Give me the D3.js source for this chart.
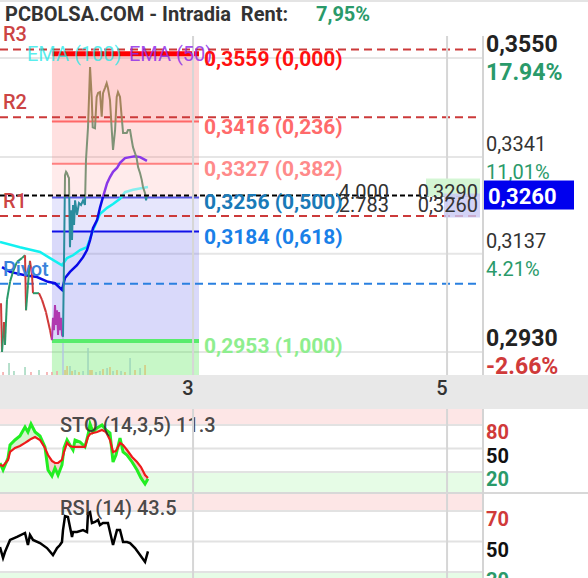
<!DOCTYPE html>
<html><head><meta charset="utf-8">
<script src="https://cdn.jsdelivr.net/npm/d3@7"></script>
<style>body{margin:0;background:#fff}svg{display:block;font-family:Roboto,"Noto Sans",sans-serif}</style>
</head><body><svg id="c" width="588" height="578"></svg>
<script>
// ---------------- data ----------------
const TITLE = "PCBOLSA.COM - Intradia\u00a0 Rent:";
const RENT = "7,95%";
const X_TICKS = [3, 5];
const X_TICK_LABELS = ["3", "5"];
const PRICE_TICKS = [0.3550, 0.3341, 0.3137, 0.2930];
const PRICE_TICK_LABELS = ["0,3550", "0,3341", "0,3137", "0,2930"];
const PRICE_TICK_BOLD = [true, false, false, true];
const PCT_LABELS = ["17.94%", "11,01%", "4.21%", "-2.66%"];
const PCT_UP = [true, true, true, false];

const FIB_LEVELS = [0.3559, 0.3416, 0.3327, 0.3256, 0.3184, 0.2953];
const FIB_RATIOS = ["0,000", "0,236", "0,382", "0,500", "0,618", "1,000"];
const FIB_SPAN = [1.889, 3.047];

const PIVOT_NAMES = ["R3", "R2", "R1", "Pivot"];
const PIVOT_LEVELS = [0.3568, 0.3425, 0.3217, 0.3074];

const LAST_PRICE = 0.3260;
const BOOK_QTY = ["4.000", "2.783"];
const BOOK_PX = ["0,3290", "0,3260"];

// price before the fibonacci range (candle colours by direction)
const PRE_T = [1.488,1.496,1.511,1.519,1.535,1.559,1.582,1.614,1.653,1.677,1.685,1.700,1.716,1.732,1.740,1.787,1.811,1.842,1.874,1.889];
const PRE_P = [0.3033,0.2930,0.2993,0.2945,0.3040,0.3078,0.3099,0.3120,0.3128,0.3134,0.3018,0.3071,0.3122,0.3092,0.3054,0.3054,0.3040,0.3014,0.2976,0.2955];
// low zone (magenta)
const DIP_T = [1.889,1.897,1.905,1.913,1.921,1.929,1.937,1.945,1.952,1.960,1.968,1.976];
const DIP_P = [0.2955,0.3002,0.2976,0.3029,0.2987,0.3018,0.2966,0.3014,0.2976,0.3002,0.2966,0.2962];
// main price path
const MAIN_T = [1.976,1.984,1.992,2.000,2.008,2.015,2.023,2.031,2.039,2.047,2.055,2.063,2.071,2.086,2.102,2.118,2.134,2.149,2.157,2.173,2.189,2.202,2.210,2.228,2.241,2.252,2.267,2.281,2.291,2.307,2.320,2.330,2.346,2.360,2.370,2.386,2.399,2.409,2.425,2.438,2.449,2.478,2.488,2.504,2.517,2.527,2.556,2.567,2.583,2.596,2.606,2.622,2.630,2.637];
const MAIN_P = [0.2962,0.3124,0.3303,0.3310,0.3307,0.3301,0.3297,0.3151,0.3229,0.3166,0.3240,0.3198,0.3250,0.3219,0.3244,0.3240,0.3250,0.3240,0.3335,0.3404,0.3531,0.3468,0.3404,0.3402,0.3468,0.3476,0.3478,0.3426,0.3476,0.3487,0.3497,0.3487,0.3461,0.3398,0.3356,0.3398,0.3468,0.3478,0.3468,0.3426,0.3392,0.3392,0.3398,0.3398,0.3377,0.3362,0.3339,0.3320,0.3307,0.3293,0.3278,0.3265,0.3250,0.3260];

const EMA100_T = [1.480,1.637,1.795,1.874,1.968,2.008,2.055,2.110,2.165,2.212,2.267,2.323,2.370,2.425,2.464,2.527,2.645];
const EMA100_V = [0.3162,0.3151,0.3141,0.3128,0.3113,0.3128,0.3134,0.3145,0.3151,0.3187,0.3221,0.3234,0.3242,0.3253,0.3267,0.3272,0.3278];
const EMA50_T = [1.496,1.559,1.677,1.771,1.858,1.913,1.968,1.992,2.031,2.086,2.134,2.165,2.189,2.212,2.244,2.267,2.291,2.323,2.346,2.370,2.401,2.425,2.464,2.504,2.543,2.583,2.637];
const EMA50_V = [0.3109,0.3099,0.3092,0.3088,0.3078,0.3075,0.3061,0.3086,0.3099,0.3113,0.3130,0.3145,0.3166,0.3191,0.3208,0.3234,0.3257,0.3286,0.3299,0.3310,0.3318,0.3329,0.3339,0.3341,0.3343,0.3341,0.3333];

const VOL_T = [1.504,1.551,1.590,1.677,1.724,1.787,1.850,1.889,1.929,1.976,1.992,2.008,2.031,2.047,2.071,2.102,2.134,2.173,2.189,2.204,2.236,2.267,2.291,2.323,2.346,2.370,2.401,2.433,2.464,2.504,2.543,2.583,2.622];
const VOL_V = [3,12,4,8,3,5,3,3,4,40,5,9,9,4,5,3,4,27,5,5,3,4,6,7,8,4,5,4,3,17,5,7,10];
const VOL_KIND = ["d","u","u","u","d","u","d","d","d","n","o","o","u","o","u","o","u","u","o","o","u","u","o","u","o","u","o","u","o","u","o","u","o"];

const STO_T = [1.480,1.504,1.543,1.559,1.598,1.637,1.677,1.700,1.724,1.756,1.795,1.834,1.858,1.889,1.913,1.937,1.968,1.984,2.008,2.031,2.055,2.071,2.110,2.149,2.173,2.189,2.212,2.244,2.283,2.315,2.346,2.370,2.393,2.425,2.449,2.480,2.520,2.559,2.590,2.622,2.645];
const STO_K = [31.5,22.6,37.9,54.5,60.9,66.0,77.5,71.1,81.3,71.1,66.0,52.0,22.6,14.9,25.1,16.2,29.0,50.7,60.9,54.5,48.1,60.9,58.3,52.0,67.3,81.3,71.1,76.2,80.0,73.6,69.8,32.8,41.7,63.4,45.6,41.7,32.8,22.6,12.4,4.7,11.3];
const STO_D = [29.0,27.7,35.4,45.6,50.7,53.2,57.1,59.6,62.2,64.7,60.9,50.7,41.7,34.1,31.5,31.5,35.4,45.6,57.1,53.2,52.0,52.0,52.0,52.0,64.7,68.5,69.8,71.1,73.6,71.1,60.9,45.6,46.9,57.1,54.5,48.1,39.2,32.8,26.4,16.2,12.4];
const STO_LEVELS = [80, 50, 20];
const STO_LABEL = "STO (14,3,5) 11.3";

const RSI_T = [1.480,1.504,1.519,1.559,1.614,1.677,1.700,1.716,1.740,1.795,1.850,1.897,1.929,1.952,1.968,1.976,1.992,2.015,2.031,2.047,2.055,2.086,2.134,2.165,2.173,2.189,2.204,2.228,2.252,2.267,2.291,2.330,2.370,2.401,2.425,2.449,2.480,2.504,2.543,2.583,2.622,2.645];
const RSI_V = [46.4,39.2,43.1,51.0,53.0,55.6,47.7,54.3,51.0,49.0,45.7,41.1,45.7,47.7,49.7,57.5,66.7,66.1,59.5,53.0,56.2,56.2,57.5,56.2,68.7,69.3,62.1,62.8,64.1,60.8,62.1,62.1,47.7,57.5,57.5,49.7,49.7,49.0,45.7,41.1,36.6,43.5];
const RSI_LEVELS = [70, 50, 30];
const RSI_LABEL = "RSI (14) 43.5";

// ---------------- layout ----------------
const W = 588, H = 578;
const AX = 483;               // right axis x
const MAIN_TOP = 36, MAIN_BOT = 375;
const XAX_BOT = 409;
const STO_TOP = 409, STO_BOT = 493;
const RSI_TOP = 493, RSI_BOT = 578;

const svg = d3.select("#c");
const x = d3.scaleLinear().domain([1.48, 5.283]).range([0, AX]);
const y = d3.scaleLinear().domain([0.2930, 0.3550]).range([352, 58]);
const yv = d3.scaleLinear().domain([0, 40]).range([MAIN_BOT, 335]);
const ys = d3.scaleLinear().domain([20, 80]).range([472, 425]);
const yr = d3.scaleLinear().domain([30, 70]).range([572, 511]);

const GREEN = "#2a9a6a", RED = "#d03a3a";

// top line + title
svg.append("rect").attr("x",0).attr("y",0).attr("width",W).attr("height",2).attr("fill","#e4e4e4");
svg.append("text").attr("x",5).attr("y",21).attr("font-size",20).attr("font-weight",700).attr("fill","#333").text(TITLE);
svg.append("text").attr("x",316).attr("y",21).attr("font-size",20).attr("font-weight",700).attr("fill",GREEN).text(RENT);

const defs = svg.append("defs");
defs.append("clipPath").attr("id","mainClip").append("rect").attr("x",0).attr("y",MAIN_TOP).attr("width",AX).attr("height",MAIN_BOT-MAIN_TOP);
defs.append("clipPath").attr("id","rsiClip").append("rect").attr("x",0).attr("y",RSI_TOP).attr("width",AX).attr("height",RSI_BOT-RSI_TOP);

function levelGradient(id, levels, colors) {
  const g = defs.append("linearGradient").attr("id", id).attr("gradientUnits","userSpaceOnUse")
    .attr("x1",0).attr("x2",0).attr("y1",0).attr("y2",H);
  g.append("stop").attr("offset",0).attr("stop-color",colors[0]);
  levels.forEach((lv,i)=>{
    const o = y(lv)/H;
    g.append("stop").attr("offset",o).attr("stop-color",colors[i]);
    g.append("stop").attr("offset",o).attr("stop-color",colors[i+1]);
  });
  g.append("stop").attr("offset",1).attr("stop-color",colors[colors.length-1]);
}
levelGradient("gPrice", [FIB_LEVELS[1], FIB_LEVELS[3]], ["#a3845c","#7f9377","#2a8c9e"]);
levelGradient("gEma100", [FIB_LEVELS[3]], ["#86eeee","#12f0f0"]);
levelGradient("gEma50", [FIB_LEVELS[3]], ["#8a38e8","#0a0ae8"]);

const main = svg.append("g").attr("clip-path","url(#mainClip)");

// gridlines
main.selectAll(".hg").data(PRICE_TICKS).join("line")
  .attr("x1",0).attr("x2",AX).attr("y1",d=>y(d)).attr("y2",d=>y(d))
  .attr("stroke","#e6e6e6").attr("stroke-width",2);
svg.selectAll(".vg").data(X_TICKS).join("line")
  .attr("x1",d=>x(d)).attr("x2",d=>x(d)).attr("y1",MAIN_TOP).attr("y2",MAIN_BOT)
  .attr("stroke","#d6d6d6").attr("stroke-width",2);

// fibonacci zones
const zoneFill = ["#ff6666","#ff6666","#ff6666","#4040e8","#4040e8","#30e030"];
const zoneOp = [0.3, 0.2, 0.13, 0.13, 0.2, 0.27];
const zoneBounds = FIB_LEVELS.map((lv,i)=>[lv, i<FIB_LEVELS.length-1 ? FIB_LEVELS[i+1] : null]);
main.selectAll(".zone").data(zoneBounds).join("rect")
  .attr("x",x(FIB_SPAN[0])).attr("width",x(FIB_SPAN[1])-x(FIB_SPAN[0]))
  .attr("y",d=>y(d[0]))
  .attr("height",d=>(d[1]===null?MAIN_BOT:y(d[1]))-y(d[0]))
  .attr("fill",(d,i)=>zoneFill[i]).attr("fill-opacity",(d,i)=>zoneOp[i]);

// volume
const volColor = {u:"#9fd6bb", d:"#f2a4a4", o:"#d6c77c", n:"#b4c6e2"};
main.selectAll(".vol").data(VOL_T).join("rect")
  .attr("x",d=>x(d)-0.75).attr("width",1.5)
  .attr("y",(d,i)=>yv(VOL_V[i])).attr("height",(d,i)=>MAIN_BOT-yv(VOL_V[i]))
  .attr("fill",(d,i)=>volColor[VOL_KIND[i]]);

// pivot dashed lines
main.selectAll(".piv").data(PIVOT_LEVELS).join("line")
  .attr("x1",0).attr("x2",477).attr("y1",d=>y(d)).attr("y2",d=>y(d))
  .attr("stroke",(d,i)=>PIVOT_NAMES[i]==="Pivot"?"#2a80e0":"#cc3a3a")
  .attr("stroke-width",2).attr("stroke-dasharray","8,5");

// fib lines
const fibColor = ["#ff0000","#ff6868","#ff8080","#5a5ae6","#1010e8","#58ec6c"];
const fibWidth = [5,2,2,2,2,4];
main.selectAll(".fib").data(FIB_LEVELS).join("line")
  .attr("x1",x(FIB_SPAN[0])).attr("x2",x(FIB_SPAN[1]))
  .attr("y1",d=>y(d)).attr("y2",d=>y(d))
  .attr("stroke",(d,i)=>fibColor[i]).attr("stroke-width",(d,i)=>fibWidth[i]);

// EMA lines
const lineP = d3.line().x(d=>x(d[0])).y(d=>y(d[1]));
main.append("path").datum(d3.zip(EMA100_T,EMA100_V)).attr("d",lineP)
  .attr("fill","none").attr("stroke","url(#gEma100)").attr("stroke-width",2.5);
main.append("path").datum(d3.zip(EMA50_T,EMA50_V)).attr("d",lineP)
  .attr("fill","none").attr("stroke","url(#gEma50)").attr("stroke-width",2.5);

// price: pre segment by direction
const preSegs = d3.range(PRE_T.length-1).map(i=>[[PRE_T[i],PRE_P[i]],[PRE_T[i+1],PRE_P[i+1]]]);
main.selectAll(".pre").data(preSegs).join("path").attr("d",lineP)
  .attr("fill","none").attr("stroke",d=>d[1][1]>=d[0][1]?"#2a9a6a":"#d03a3a").attr("stroke-width",2);
main.append("path").datum(d3.zip(DIP_T,DIP_P)).attr("d",lineP)
  .attr("fill","none").attr("stroke","#b03ab0").attr("stroke-width",2);
main.append("path").datum(d3.zip(MAIN_T,MAIN_P)).attr("d",lineP)
  .attr("fill","none").attr("stroke","url(#gPrice)").attr("stroke-width",2);

// current price dashed line
main.append("line").attr("x1",0).attr("x2",480).attr("y1",y(LAST_PRICE)).attr("y2",y(LAST_PRICE))
  .attr("stroke","#000").attr("stroke-width",2).attr("stroke-dasharray","5,3");

// order book box
const yl = y(LAST_PRICE);
svg.append("rect").attr("x",426).attr("y",yl-17).attr("width",54).attr("height",18).attr("fill","#d4f6d4");
svg.append("rect").attr("x",444).attr("y",yl-2).attr("width",36).attr("height",24).attr("fill","#c8c8f4").attr("fill-opacity",0.8);
BOOK_QTY.forEach((q,i)=>{
  svg.append("text").attr("x",389).attr("y",yl+3+i*13).attr("text-anchor","end").attr("font-size",20).attr("fill","#333").text(q);
  svg.append("text").attr("x",478).attr("y",yl+3+i*13).attr("text-anchor","end").attr("font-size",20).attr("fill","#333").text(BOOK_PX[i]);
});

// labels: pivots
svg.selectAll(".pivl").data(PIVOT_LEVELS).join("text")
  .attr("x",3).attr("y",d=>y(d)-8).attr("font-size",20).attr("font-weight",500)
  .attr("fill",(d,i)=>PIVOT_NAMES[i]==="Pivot"?"#3a82da":"#cc4444")
  .text((d,i)=>PIVOT_NAMES[i]);

// EMA legend
svg.append("text").attr("x",27).attr("y",61).attr("font-size",20).attr("fill","#22e8e8").attr("fill-opacity",0.75).text("EMA (100)");
svg.append("text").attr("x",129).attr("y",61).attr("font-size",20).attr("fill","#9030e8").attr("fill-opacity",0.85).text("EMA (50)");

// fib labels
const fibText = ["#ff1010","#ff6a6a","#ff8a8a","#1a7ab8","#1a80e8","#8eee8e"];
svg.selectAll(".fibl").data(FIB_LEVELS).join("text")
  .attr("x",x(FIB_SPAN[1])+5).attr("y",d=>y(d)+12)
  .attr("font-size",21).attr("font-weight",700)
  .attr("fill",(d,i)=>fibText[i])
  .text((d,i)=>d3.format(".4f")(d).replace(".",",")+" ("+FIB_RATIOS[i]+")");

// x axis band
svg.append("rect").attr("x",0).attr("y",MAIN_BOT).attr("width",W).attr("height",XAX_BOT-MAIN_BOT).attr("fill","#e8e8e8");
svg.selectAll(".xt").data(X_TICKS).join("text")
  .attr("x",d=>x(d)-5).attr("y",395).attr("text-anchor","middle")
  .attr("font-size",20).attr("font-weight",500).attr("fill","#333")
  .text((d,i)=>X_TICK_LABELS[i]);

// right axis labels
svg.selectAll(".pt").data(PRICE_TICKS).join("text")
  .attr("x",486).attr("y",d=>y(d)-6)
  .attr("font-size",(d,i)=>PRICE_TICK_BOLD[i]?23:20)
  .attr("font-weight",(d,i)=>PRICE_TICK_BOLD[i]?700:400)
  .attr("fill",(d,i)=>PRICE_TICK_BOLD[i]?"#222":"#333")
  .text((d,i)=>PRICE_TICK_LABELS[i]);
svg.selectAll(".pp").data(PRICE_TICKS).join("text")
  .attr("x",486).attr("y",d=>y(d)+22)
  .attr("font-size",(d,i)=>PRICE_TICK_BOLD[i]?23:20)
  .attr("font-weight",(d,i)=>PRICE_TICK_BOLD[i]?700:400)
  .attr("fill",(d,i)=>PCT_UP[i]?GREEN:RED)
  .text((d,i)=>PCT_LABELS[i]);

// last price tag
svg.append("rect").attr("x",484).attr("y",yl-15).attr("width",90).attr("height",29).attr("fill","#0000ee");
svg.append("text").attr("x",488).attr("y",yl+8).attr("font-size",22).attr("font-weight",700).attr("fill","#fff")
  .text(d3.format(".4f")(LAST_PRICE).replace(".",","));

// ---------------- stochastic panel ----------------
const sto = svg.append("g");
sto.append("rect").attr("x",0).attr("y",STO_TOP).attr("width",AX).attr("height",ys(80)-STO_TOP).attr("fill","#fde6e6");
sto.append("rect").attr("x",0).attr("y",ys(20)).attr("width",AX).attr("height",STO_BOT-ys(20)).attr("fill","#e6fce6");
sto.selectAll(".sg").data(STO_LEVELS).join("line")
  .attr("x1",0).attr("x2",AX).attr("y1",d=>ys(d)).attr("y2",d=>ys(d)).attr("stroke","#e2e2e2").attr("stroke-width",2);
const stoData = STO_T.map((t,i)=>({t,k:STO_K[i],d:STO_D[i]}));
defs.append("clipPath").attr("id","aboveD").append("path")
  .attr("d", d3.area().x(d=>x(d.t)).y0(STO_TOP).y1(d=>ys(d.d))(stoData));
defs.append("clipPath").attr("id","belowD").append("path")
  .attr("d", d3.area().x(d=>x(d.t)).y0(STO_BOT).y1(d=>ys(d.d))(stoData));
const between = d3.area().x(d=>x(d.t)).y0(d=>ys(d.d)).y1(d=>ys(d.k));
sto.append("path").datum(stoData).attr("d",between).attr("fill","#c8f2c0").attr("fill-opacity",0.8).attr("clip-path","url(#aboveD)");
sto.append("path").datum(stoData).attr("d",between).attr("fill","#f4c4c4").attr("fill-opacity",0.8).attr("clip-path","url(#belowD)");
sto.append("path").datum(stoData).attr("d",d3.line().x(d=>x(d.t)).y(d=>ys(d.k)))
  .attr("fill","none").attr("stroke","#22ee22").attr("stroke-width",3);
sto.append("path").datum(stoData).attr("d",d3.line().x(d=>x(d.t)).y(d=>ys(d.d)))
  .attr("fill","none").attr("stroke","#ee1a1a").attr("stroke-width",2.2);
sto.append("text").attr("x",60).attr("y",432).attr("font-size",20).attr("font-weight",500).attr("fill","#333").attr("fill-opacity",0.9).text(STO_LABEL);

// ---------------- RSI panel ----------------
const rsi = svg.append("g").attr("clip-path","url(#rsiClip)");
rsi.append("rect").attr("x",0).attr("y",RSI_TOP).attr("width",AX).attr("height",yr(70)-RSI_TOP).attr("fill","#fde6e6");
rsi.append("rect").attr("x",0).attr("y",yr(30)).attr("width",AX).attr("height",RSI_BOT-yr(30)).attr("fill","#e6fce6");
rsi.selectAll(".rg").data(RSI_LEVELS).join("line")
  .attr("x1",0).attr("x2",AX).attr("y1",d=>yr(d)).attr("y2",d=>yr(d)).attr("stroke","#e2e2e2").attr("stroke-width",2);
rsi.append("path").datum(d3.zip(RSI_T,RSI_V)).attr("d",d3.line().x(d=>x(d[0])).y(d=>yr(d[1])))
  .attr("fill","none").attr("stroke","#000").attr("stroke-width",2.5);
svg.append("text").attr("x",60).attr("y",515).attr("font-size",20).attr("font-weight",500).attr("fill","#333").attr("fill-opacity",0.9).text(RSI_LABEL);

// panel vertical gridlines
svg.selectAll(".pvg").data(X_TICKS).join("line")
  .attr("x1",d=>x(d)).attr("x2",d=>x(d)).attr("y1",STO_TOP).attr("y2",H)
  .attr("stroke","#d6d6d6").attr("stroke-width",2);

// separators & axis line
svg.append("line").attr("x1",0).attr("x2",W).attr("y1",STO_BOT).attr("y2",STO_BOT).attr("stroke","#d8d8d8").attr("stroke-width",2);
svg.append("line").attr("x1",AX).attr("x2",AX).attr("y1",MAIN_TOP).attr("y2",MAIN_BOT).attr("stroke","#d4d4d4").attr("stroke-width",2);
svg.append("line").attr("x1",AX).attr("x2",AX).attr("y1",STO_TOP).attr("y2",H).attr("stroke","#d4d4d4").attr("stroke-width",2);

// panel right labels
const stoColors = [RED,"#111",GREEN];
svg.selectAll(".sl").data(STO_LEVELS).join("text")
  .attr("x",486).attr("y",d=>ys(d)+14).attr("font-size",20).attr("font-weight",700)
  .attr("fill",(d,i)=>stoColors[i]).text(d=>d);
svg.selectAll(".rl").data(RSI_LEVELS).join("text")
  .attr("x",486).attr("y",d=>yr(d)+15).attr("font-size",20).attr("font-weight",700)
  .attr("fill",(d,i)=>stoColors[i]).text(d=>d);
</script></body></html>
